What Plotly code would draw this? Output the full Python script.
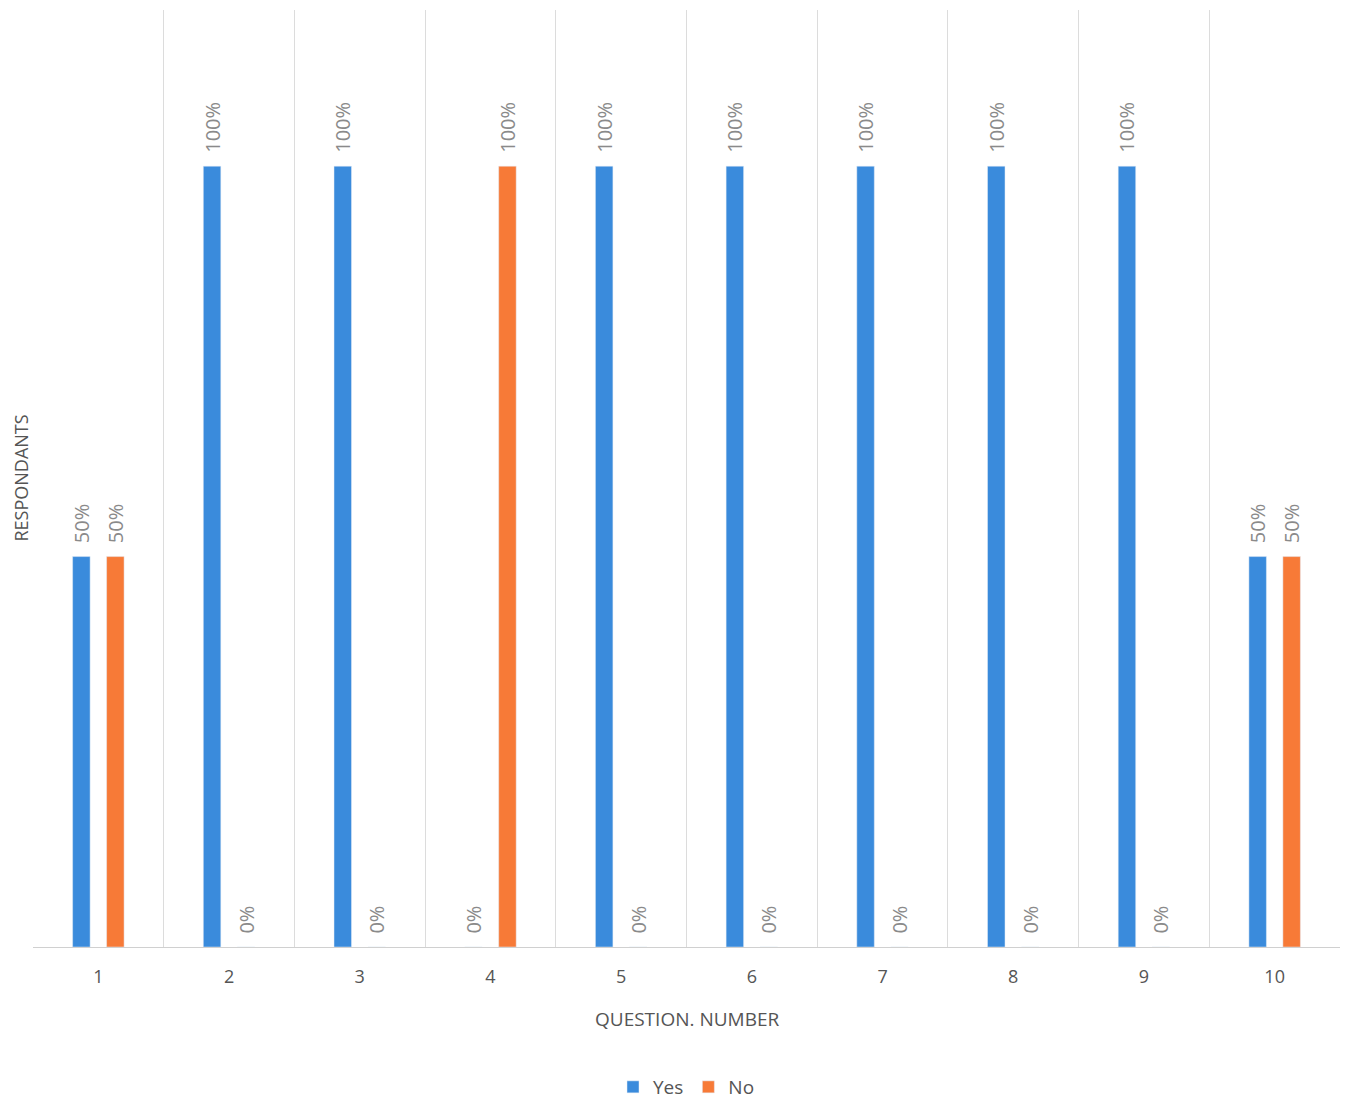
import plotly.graph_objects as go

questions = ["1", "2", "3", "4", "5", "6", "7", "8", "9", "10"]
yes_vals = [0.5, 1.0, 1.0, 0.0, 1.0, 1.0, 1.0, 1.0, 1.0, 0.5]
no_vals = [0.5, 0.0, 0.0, 1.0, 0.0, 0.0, 0.0, 0.0, 0.0, 0.5]

blue = "#3a8bdc"
orange = "#f77a37"
font_family = "Open Sans, Lato, sans-serif"

fig = go.Figure()
for name, vals, color in [("Yes", yes_vals, blue), ("No", no_vals, orange)]:
    fig.add_trace(go.Bar(
        x=questions, y=vals, name=name, marker_color=color,
        text=["\u00a0\u00a0" + f"{v:.0%}" for v in vals], textposition="outside",
        textangle=-90, constraintext="none", cliponaxis=False,
        textfont=dict(color="#8a8a8a", size=20, family=font_family),
    ))

# page body has an 8px offset; margins are set so the plot lands where the reference has it
W, H = 1350, 1099
ML, MR, MT, MB = 25, 18, 2, 160
PLOT_H = H - MT - MB
PLOT_W = W - ML - MR
BASE = H - MB  # baseline y in figure pixels

fig.update_layout(
    width=W, height=H,
    paper_bgcolor="white", plot_bgcolor="white",
    margin=dict(l=ML, r=MR, t=MT, b=MB, autoexpand=False),
    barmode="group", bargap=0.48, bargroupgap=0.485,
    font=dict(family=font_family, color="#555555"),
    legend=dict(orientation="h", x=0.5, xanchor="center",
                y=-(1079 - BASE) / PLOT_H, yanchor="middle",
                font=dict(size=19, color="#555555"), itemwidth=30),
    xaxis=dict(
        type="category", tickson="boundaries", showgrid=True, gridcolor="#dcdcdc",
        showline=True, linecolor="#d0d0d0", ticks="", automargin=False,
        ticklabelstandoff=13, tickfont=dict(size=18, color="#555555"),
    ),
    yaxis=dict(range=[0, 1.2], showgrid=False, showticklabels=False,
               zeroline=False, automargin=False),
    annotations=[
        dict(text="QUESTION. NUMBER", xref="paper", yref="paper",
             x=0.5, y=-(1011 - BASE) / PLOT_H, xanchor="center", yanchor="middle",
             showarrow=False, font=dict(size=19, color="#555555")),
        dict(text="RESPONDANTS", xref="paper", yref="paper",
             x=-(ML - 12) / PLOT_W, y=0.5, xanchor="center", yanchor="middle",
             textangle=-90, showarrow=False, font=dict(size=18, color="#555555")),
    ],
)

fig.write_html("out.html")
